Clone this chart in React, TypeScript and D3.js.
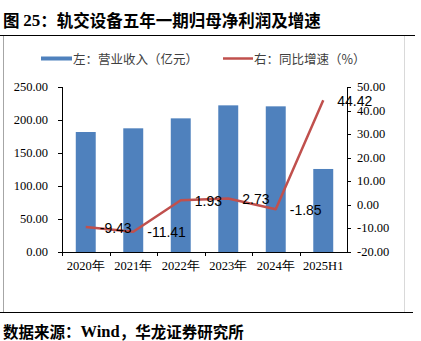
import React from "react";
import * as d3 from "d3";

const categories = ["2020年", "2021年", "2022年", "2023年", "2024年", "2025H1"];
const revenue = [181.8, 187.4, 202.5, 222.2, 220.7, 125.8];
const growth = [-9.43, -11.41, 1.93, 2.73, -1.85, 44.42];
const leftTicks = [0, 50, 100, 150, 200, 250];
const rightTicks = [-20, -10, 0, 10, 20, 30, 40, 50];

const titleHead = "图 ";
const titleNum = "25";
const titleRest = "：轨交设备五年一期归母净利润及增速";
const legendBar = "左：营业收入（亿元）";
const legendLine = "右：同比增速（%）";
const sourceHead = "数据来源：";
const sourceLatin = "Wind";
const sourceRest = "，华龙证券研究所";

const W = 421;
const H = 341;
const plotLeft = 62;
const plotRight = 347;
const plotTop = 87;
const plotBottom = 252;

const BLUE = "#4F81BD";
const RED = "#C0504D";
const SERIF = "'Liberation Serif', 'Times New Roman', serif";
const CJK = "'Noto Sans CJK SC', sans-serif";

export default function App() {
  const x = d3.scaleBand<string>().domain(categories).range([plotLeft, plotRight]).paddingInner(0.58).paddingOuter(0.29);
  const xOuter = d3.scaleBand<string>().domain(categories).range([plotLeft, plotRight]);
  const yL = d3.scaleLinear().domain([0, 250]).range([plotBottom, plotTop]);
  const yR = d3.scaleLinear().domain([-20, 50]).range([plotBottom, plotTop]);

  const cx = (c: string) => (xOuter(c) as number) + xOuter.bandwidth() / 2;
  const pts: [number, number][] = categories.map((c, i) => [cx(c), yR(growth[i])]);
  const line = d3.line<[number, number]>().x((d) => d[0]).y((d) => d[1])(pts) as string;

  return (
    <svg width={W} height={H} style={{ position: "absolute", left: 0, top: 0, background: "#fff" }}>
      <rect x={0} y={0} width={W} height={H} fill="#fff" />
      {/* title */}
      <text x={3} y={19.5} dominantBaseline="central" fontFamily={CJK} fontWeight="bold" fontSize={16.5} fill="#000">
        {titleHead}
        <tspan fontFamily={SERIF} fontSize={17}>{titleNum}</tspan>
        {titleRest}
      </text>
      {/* frame */}
      <line x1={3.5} x2={3.5} y1={35} y2={312} stroke="#a6a6a6" strokeWidth={1} />
      <line x1={404.5} x2={404.5} y1={35} y2={312} stroke="#d9d9d9" strokeWidth={1} />
      <line x1={0} x2={415} y1={35.5} y2={35.5} stroke="#000" strokeWidth={1} />
      <line x1={0} x2={413} y1={312.5} y2={312.5} stroke="#000" strokeWidth={1} />

      {/* legend */}
      <rect x={41} y={56.5} width={31} height={4} fill={BLUE} />
      <text x={73} y={58.5} dominantBaseline="central" fontFamily={CJK} fontSize={12.5} fill="#404040">
        {legendBar}
      </text>
      <line x1={223} x2={253} y1={58.5} y2={58.5} stroke={RED} strokeWidth={2.5} />
      <text x={254} y={58.5} dominantBaseline="central" fontFamily={CJK} fontSize={12.5} fill="#404040">
        {legendLine}
      </text>

      {/* bars */}
      {categories.map((c, i) => (
        <rect key={c} x={x(c)} y={yL(revenue[i])} width={x.bandwidth()} height={plotBottom - yL(revenue[i])} fill={BLUE} />
      ))}

      {/* left axis */}
      <line x1={plotLeft + 0.5} x2={plotLeft + 0.5} y1={plotTop} y2={plotBottom} stroke="#000" />
      {leftTicks.map((t) => (
        <g key={"l" + t}>
          <line x1={plotLeft - 4} x2={plotLeft} y1={Math.round(yL(t)) + 0.5} y2={Math.round(yL(t)) + 0.5} stroke="#000" />
          <text x={48} y={yL(t)} textAnchor="end" dominantBaseline="central" fontFamily={SERIF} fontSize={12.5} fill="#000">
            {t.toFixed(2)}
          </text>
        </g>
      ))}

      {/* right axis */}
      <line x1={plotRight + 0.5} x2={plotRight + 0.5} y1={plotTop} y2={plotBottom} stroke="#000" />
      {rightTicks.map((t) => (
        <g key={"r" + t}>
          <line x1={plotRight} x2={plotRight + 4} y1={Math.round(yR(t)) + 0.5} y2={Math.round(yR(t)) + 0.5} stroke="#000" />
          <text x={357} y={yR(t)} textAnchor="start" dominantBaseline="central" fontFamily={SERIF} fontSize={12.5} fill="#000">
            {t.toFixed(2)}
          </text>
        </g>
      ))}

      {/* x axis */}
      <line x1={plotLeft} x2={plotRight + 1} y1={plotBottom + 0.5} y2={plotBottom + 0.5} stroke="#000" />
      {categories.map((c) => (
        <line key={"xt" + c} x1={Math.round(xOuter(c) as number) + 0.5} x2={Math.round(xOuter(c) as number) + 0.5} y1={plotBottom} y2={plotBottom + 4} stroke="#000" />
      ))}
      {categories.map((c) => (
        <text key={"xl" + c} x={cx(c)} y={266} textAnchor="middle" dominantBaseline="central" fontFamily={SERIF} fontSize={12.5} fill="#000">
          {c}
        </text>
      ))}

      {/* line */}
      <path d={line} fill="none" stroke={RED} strokeWidth={2.5} strokeLinejoin="round" />
      {pts.map((p, i) => (
        <text key={"dl" + i} x={p[0] + 14} y={p[1] + 0.5} dominantBaseline="central" fontFamily="'Liberation Sans', Arial, sans-serif" fontSize={14} fill="#000">
          {growth[i].toFixed(2)}
        </text>
      ))}

      {/* footer */}
      <text x={3} y={331} dominantBaseline="central" fontFamily={CJK} fontWeight="bold" fontSize={15.5} fill="#000">
        {sourceHead}
        <tspan fontFamily={SERIF} fontSize={16.5}>{sourceLatin}</tspan>
        {sourceRest}
      </text>
    </svg>
  );
}
